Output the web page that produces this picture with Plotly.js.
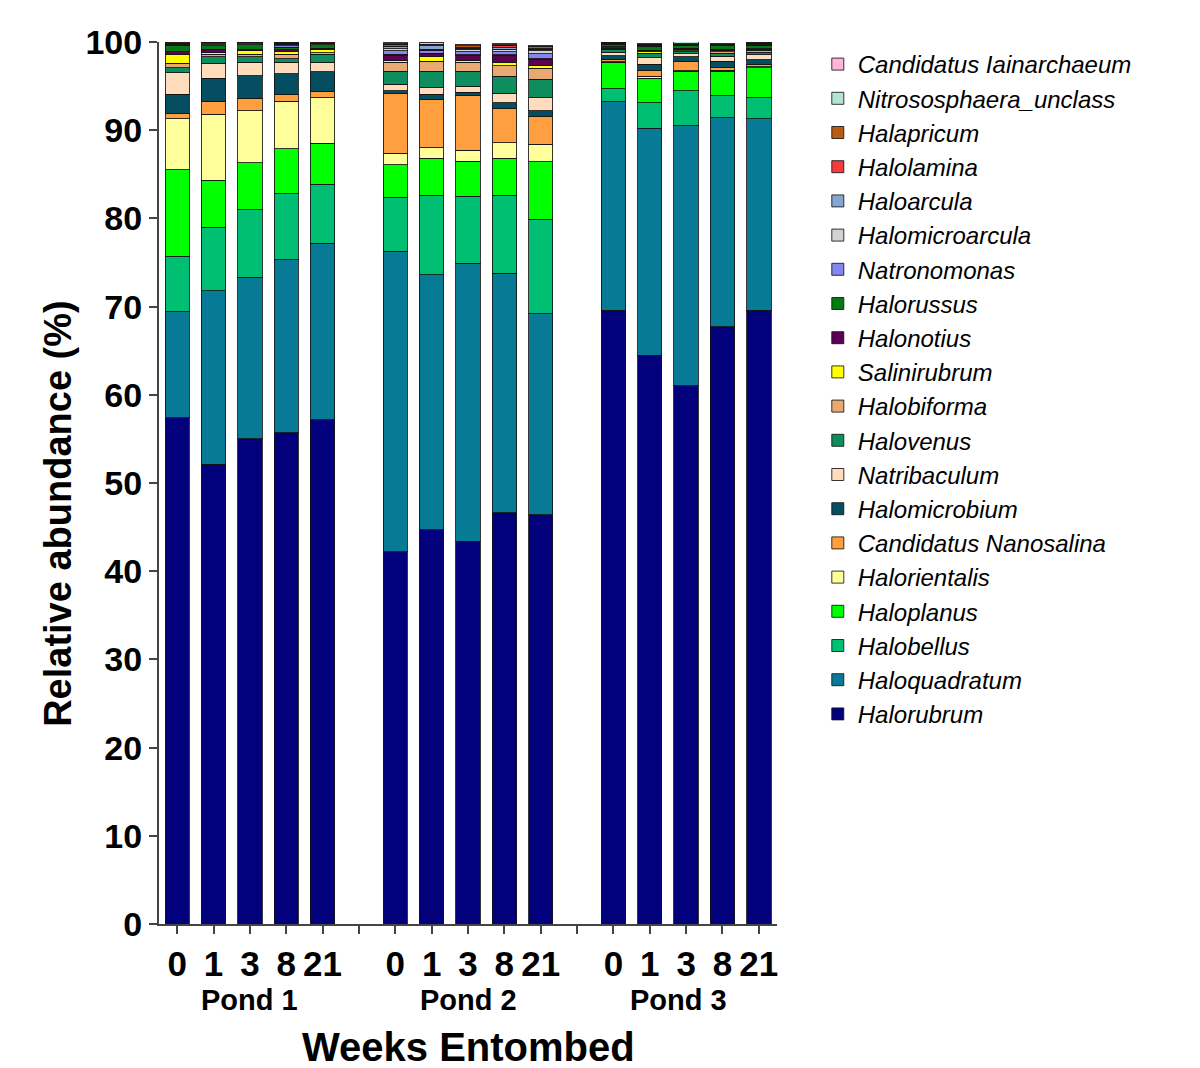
<!DOCTYPE html>
<html>
<head>
<meta charset="utf-8">
<script src="https://cdn.plot.ly/plotly-3.0.1.min.js"></script>
<style>html,body{margin:0;padding:0;background:#fff;}#chart{width:1200px;height:1068px;}</style>
</head>
<body>
<div id="chart"></div>
<script>
// ---- Data ----
const ponds = ['Pond 1', 'Pond 2', 'Pond 3'];
const weekLabels = ['0', '1', '3', '8', '21'];

// genera listed bottom-of-stack first
const genera = [
  'Halorubrum', 'Haloquadratum', 'Halobellus', 'Haloplanus', 'Halorientalis',
  'Candidatus Nanosalina', 'Halomicrobium', 'Natribaculum', 'Halovenus', 'Halobiforma',
  'Salinirubrum', 'Halonotius', 'Halorussus', 'Natronomonas', 'Halomicroarcula',
  'Haloarcula', 'Halolamina', 'Halapricum', 'Nitrososphaera_unclass', 'Candidatus Iainarchaeum'
];
const generaColors = [
  '#02007a', '#077b95', '#00bf72', '#00ff00', '#fefe9a',
  '#ff9f40', '#054e62', '#ffdcbc', '#0e8e5e', '#e8aa72',
  '#ffff00', '#5c0052', '#067a12', '#8585ee', '#d2d2d2',
  '#86a6d0', '#f43c3c', '#b85c12', '#b3e6d2', '#ffb6d8'
];

// values per genus, samples: Pond1 wk 0,1,3,8,21 | Pond2 | Pond3
const Halorubrum      = [57.4, 52.1, 55.0, 55.7, 57.2, 42.2, 44.7, 43.4, 46.6, 46.4, 69.6, 64.5, 61.0, 67.7, 69.6];
const Haloquadratum   = [12.0, 19.7, 18.3, 19.6, 20.0, 34.1, 28.9, 31.5, 27.2, 22.8, 23.6, 25.7, 29.5, 23.7, 21.7];
const Halobellus      = [6.3, 7.2, 7.7, 7.5, 6.7, 6.1, 9.0, 7.6, 8.8, 10.7, 1.5, 2.9, 4.0, 2.5, 2.4];
const Haloplanus      = [9.8, 5.3, 5.3, 5.1, 4.6, 3.7, 4.2, 4.0, 4.2, 6.5, 3.0, 2.8, 2.2, 2.8, 3.4];
const Halorientalis   = [5.8, 7.5, 5.9, 5.4, 5.2, 1.3, 1.2, 1.2, 1.8, 2.0, 0.05, 0.2, 0.05, 0.1, 0.1];
const CandNanosalina  = [0.6, 1.5, 1.4, 0.8, 0.7, 6.8, 5.5, 6.2, 3.9, 3.2, 0.3, 0.7, 1.0, 0.3, 0.25];
const Halomicrobium   = [2.2, 2.6, 2.6, 2.3, 2.2, 0.3, 0.6, 0.4, 0.6, 0.6, 0.4, 0.7, 0.55, 0.7, 0.55];
const Natribaculum    = [2.4, 1.7, 1.5, 1.3, 1.1, 0.7, 0.7, 0.7, 1.1, 1.5, 0.4, 0.7, 0.35, 0.6, 0.55];
const Halovenus       = [0.6, 0.7, 0.6, 0.4, 0.9, 1.5, 1.9, 1.7, 1.9, 2.1, 0.25, 0.45, 0.25, 0.35, 0.3];
const Halobiforma     = [0.5, 0.3, 0.3, 0.5, 0.2, 1.0, 1.1, 1.0, 1.2, 1.2, 0.1, 0.1, 0.1, 0.15, 0.2];
const Salinirubrum    = [1.0, 0.2, 0.4, 0.3, 0.3, 0.2, 0.5, 0.25, 0.4, 0.3, 0.1, 0.2, 0.15, 0.1, 0.1];
const Halonotius      = [0.3, 0.4, 0.2, 0.2, 0.2, 0.6, 0.4, 0.55, 0.8, 0.75, 0.15, 0.1, 0.15, 0.2, 0.1];
const Halorussus      = [0.75, 0.4, 0.5, 0.3, 0.4, 0.1, 0.05, 0.05, 0.05, 0.05, 0.3, 0.45, 0.3, 0.35, 0.4];
const Natronomonas    = [0.1, 0.1, 0.1, 0.2, 0.1, 0.4, 0.3, 0.35, 0.35, 0.55, 0.05, 0.05, 0.05, 0.05, 0.05];
const Halomicroarcula = [0.1, 0.1, 0.1, 0.1, 0.05, 0.25, 0.15, 0.25, 0.3, 0.35, 0.05, 0.05, 0.05, 0.05, 0.05];
const Haloarcula      = [0.05, 0.1, 0.05, 0.05, 0.05, 0.2, 0.35, 0.15, 0.15, 0.2, 0.05, 0.05, 0.05, 0.05, 0.05];
const Halolamina      = [0.02, 0.05, 0.02, 0.02, 0.02, 0.05, 0.05, 0.05, 0.2, 0.05, 0.02, 0.02, 0.02, 0.02, 0.02];
const Halapricum      = [0.1, 0.1, 0.1, 0.1, 0.1, 0.25, 0.1, 0.2, 0.1, 0.2, 0.05, 0.05, 0.05, 0.05, 0.05];
const Nitrososphaera  = [0.02, 0.05, 0.02, 0.02, 0.02, 0.05, 0.05, 0.05, 0.05, 0.05, 0.02, 0.05, 0.2, 0.02, 0.02];
const CandIainarchaeum= [0.02, 0.05, 0.02, 0.02, 0.02, 0.1, 0.2, 0.15, 0.1, 0.1, 0.05, 0.05, 0.02, 0.05, 0.05];

const generaValues = [
  Halorubrum, Haloquadratum, Halobellus, Haloplanus, Halorientalis,
  CandNanosalina, Halomicrobium, Natribaculum, Halovenus, Halobiforma,
  Salinirubrum, Halonotius, Halorussus, Natronomonas, Halomicroarcula,
  Haloarcula, Halolamina, Halapricum, Nitrososphaera, CandIainarchaeum
];

// ---- Build categories (with an empty spacer slot between ponds) ----
const categories = [];
const tickText = [];
const sampleIndex = []; // index into value arrays, or -1 for spacer
let k = 0;
ponds.forEach((p, pi) => {
  weekLabels.forEach(w => {
    categories.push(p + ' wk ' + w);
    tickText.push(w);
    sampleIndex.push(k++);
  });
  if (pi < ponds.length - 1) {
    categories.push('gap' + pi);
    tickText.push('');
    sampleIndex.push(-1);
  }
});

const FONT = 'Liberation Sans, Arial, Helvetica, sans-serif';

const traces = genera.map((g, gi) => ({
  type: 'bar',
  name: g,
  x: categories,
  y: sampleIndex.map(si => si < 0 ? null : generaValues[gi][si]),
  marker: { color: generaColors[gi], line: { color: 'rgba(20,20,20,0.85)', width: 1 } },
  hoverinfo: 'name+y'
}));

const annotations = ponds.map((p, pi) => ({
  text: '<b>' + p + '</b>',
  x: p + ' wk 3', xref: 'x',
  y: -0.086, yref: 'paper', yanchor: 'middle', xanchor: 'center',
  xshift: pi === 2 ? -8 : 0,
  showarrow: false,
  font: { family: FONT, size: 29, color: '#000' }
}));
annotations.push({
  text: '<b>Weeks Entombed</b>', x: 0.5, xref: 'paper', y: -0.139, yref: 'paper',
  yanchor: 'middle', xanchor: 'center', showarrow: false,
  font: { family: FONT, size: 40, color: '#000' }
});
annotations.push({
  text: '<b>Relative abundance (%)</b>', x: (58 - 159) / 618, xref: 'paper', y: 0.465, yref: 'paper',
  textangle: -90, yanchor: 'middle', xanchor: 'center', showarrow: false,
  font: { family: FONT, size: 38, color: '#000' }
});

const layout = {
  width: 1200, height: 1068,
  margin: { l: 159, r: 423, t: 42, b: 144 },
  paper_bgcolor: '#ffffff', plot_bgcolor: '#ffffff',
  barmode: 'stack', bargap: 0.33,
  showlegend: true,
  legend: {
    x: 1.066, xanchor: 'left', y: 1.0, yanchor: 'top',
    traceorder: 'reversed',
    font: { family: FONT, size: 24, color: '#000', style: 'italic' },
    bgcolor: 'rgba(0,0,0,0)'
  },
  xaxis: {
    type: 'category', categoryorder: 'array', categoryarray: categories,
    range: [-0.5, categories.length - 0.5],
    tickmode: 'array', tickvals: categories, ticktext: tickText,
    ticks: 'outside', ticklen: 8, tickwidth: 2, tickcolor: '#444',
    showline: true, linecolor: '#444', linewidth: 2,
    showgrid: false, zeroline: false,
    tickfont: { family: FONT, size: 35, color: '#000', weight: 'bold' },
    fixedrange: true
  },
  yaxis: {
    range: [0, 100],
    tickmode: 'array', tickvals: [0,10,20,30,40,50,60,70,80,90,100],
    ticks: 'outside', ticklen: 8, tickwidth: 2, tickcolor: '#444',
    showline: true, linecolor: '#444', linewidth: 2,
    showgrid: false, zeroline: false,
    tickfont: { family: FONT, size: 34, color: '#000', weight: 'bold' },
    fixedrange: true
  },
  annotations: annotations
};

Plotly.newPlot('chart', traces, layout, { displayModeBar: false, staticPlot: true });
</script>
</body>
</html>
